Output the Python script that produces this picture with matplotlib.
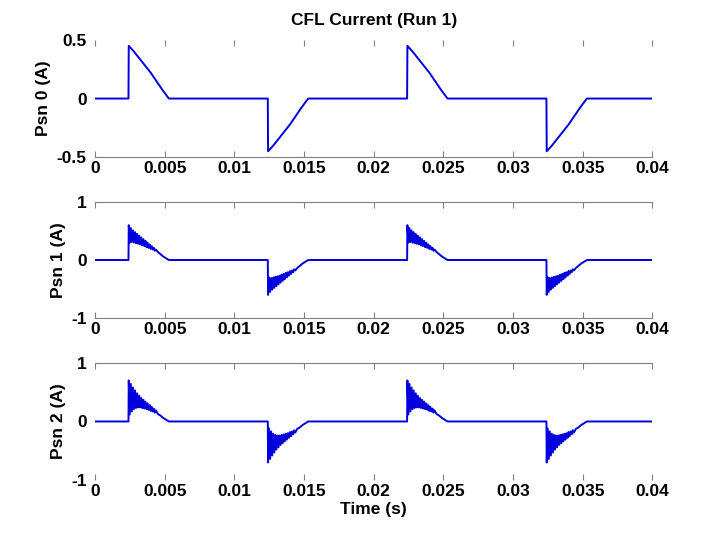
import numpy as np
import matplotlib
matplotlib.use("Agg")
import matplotlib.pyplot as plt

plt.rcParams['font.family'] = ['Liberation Sans', 'DejaVu Sans']
plt.rcParams['font.weight'] = 'bold'

# switching edges (s) and pulse polarity, same for all three lamps
edges = [0.0024, 0.0124, 0.0224, 0.0324]
polarity = [1, -1, 1, -1]
t_end = 0.04

# pulse shapes: offset from the edge (ms) -> current (A)
psn0_off = [0, 0.02, 0.4, 0.8, 1.2, 1.6, 2.0, 2.4, 2.9]
psn0_val = [0, 0.45, 0.40, 0.34, 0.28, 0.22, 0.15, 0.08, 0.0]

ring_off = [0, 0.02, 0.09, 0.17, 0.24, 0.32, 0.39, 0.47, 0.54, 0.62, 0.69,
            0.77, 0.84, 0.92, 0.99, 1.07, 1.14, 1.22, 1.29, 1.37, 1.44,
            1.52, 1.59, 1.67, 1.74, 1.82, 1.89, 1.97, 2.1, 2.3, 2.5, 2.7, 2.9]
psn1_val = [0, 0.60, 0.30, 0.55, 0.31, 0.51, 0.30, 0.48, 0.29, 0.45, 0.28,
            0.42, 0.27, 0.39, 0.25, 0.36, 0.24, 0.33, 0.22, 0.30, 0.21,
            0.27, 0.19, 0.24, 0.18, 0.21, 0.16, 0.18, 0.14, 0.10, 0.06, 0.03, 0.0]
psn2_val = [0, 0.70, 0.12, 0.64, 0.17, 0.58, 0.21, 0.53, 0.23, 0.48, 0.24,
            0.44, 0.24, 0.40, 0.23, 0.37, 0.22, 0.34, 0.21, 0.31, 0.20,
            0.28, 0.18, 0.25, 0.17, 0.22, 0.15, 0.19, 0.13, 0.10, 0.06, 0.03, 0.0]

xticks = [0, 0.005, 0.01, 0.015, 0.02, 0.025, 0.03, 0.035, 0.04]
xticklabels = ['0', '0.005', '0.01', '0.015', '0.02', '0.025', '0.03', '0.035', '0.04']


def build(off_ms, vals):
    t = [0.0]
    y = [0.0]
    for e, p in zip(edges, polarity):
        for o, v in zip(off_ms, vals):
            t.append(e + o / 1000.0)
            y.append(p * v)
    t.append(t_end)
    y.append(0.0)
    return np.array(t), np.array(y)


panels = [
    (psn0_off, psn0_val, 'Psn 0 (A)', 0.5, ['-0.5', '0', '0.5'], [0.709, 0.217], ('bottom',)),
    (ring_off, psn1_val, 'Psn 1 (A)', 1.0, ['-1', '0', '1'], [0.411, 0.215], ('top', 'bottom')),
    (ring_off, psn2_val, 'Psn 2 (A)', 1.0, ['-1', '0', '1'], [0.111, 0.217], ('top',)),
]

fs = 12.5
fig = plt.figure(figsize=(7.2, 5.4), dpi=100)
axes = []
for off, vals, ylab, lim, ylabels, (bot, h), shown in panels:
    ax = fig.add_axes([0.132, bot, 0.774, h])
    t, y = build(off, vals)
    ax.plot(t, y, color='#0000dc', linewidth=1.4)
    ax.set_xlim(0, 0.04)
    ax.set_ylim(-lim, lim)
    ax.set_xticks(xticks)
    ax.set_xticklabels(xticklabels, fontsize=fs, fontweight='bold')
    ax.set_yticks([-lim, 0, lim])
    ax.set_yticklabels(ylabels, fontsize=fs, fontweight='bold')
    ax.set_ylabel(ylab, fontsize=fs, fontweight='bold', labelpad=4)
    for s in ['left', 'right', 'top', 'bottom']:
        ax.spines[s].set_visible(s in shown)
        ax.spines[s].set_color('#808080')
    ax.tick_params(axis='x', direction='in', length=4, color='#808080',
                   top=True, bottom=True, pad=3)
    ax.tick_params(axis='y', length=0, pad=6)
    axes.append(ax)

axes[0].set_title('CFL Current (Run 1)', fontsize=12.5, fontweight='bold', pad=11)
axes[2].set_xlabel('Time (s)', fontsize=fs, fontweight='bold', labelpad=2)

fig.savefig('out.png', dpi=100)
